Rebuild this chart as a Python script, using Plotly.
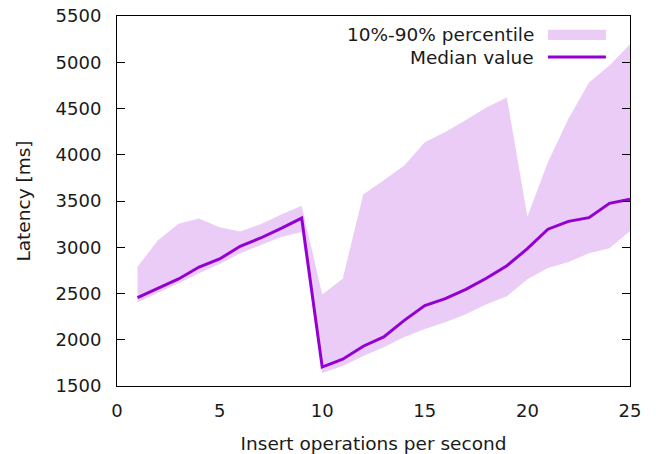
import plotly.graph_objects as go

ops = list(range(1, 26))
median_ms = [2455, 2555, 2657, 2786, 2873, 3010, 3100, 3205, 3315,
             1705, 1790, 1930, 2030, 2210, 2370, 2445, 2545, 2665, 2800,
             2985, 3195, 3280, 3320, 3475, 3520]
p90_ms = [2790, 3075, 3255, 3310, 3215, 3170, 3250, 3355, 3450,
          2490, 2660, 3570, 3725, 3885, 4135, 4245, 4375, 4510, 4620,
          3330, 3920, 4390, 4780, 4965, 5195]
p10_ms = [2405, 2505, 2612, 2720, 2820, 2935, 3020, 3110, 3165,
          1640, 1715, 1825, 1920, 2030, 2115, 2190, 2275, 2385, 2470,
          2655, 2775, 2840, 2935, 2990, 3175]

x_ticks = [0, 5, 10, 15, 20, 25]
y_ticks = [1500, 2000, 2500, 3000, 3500, 4000, 4500, 5000, 5500]

band_label = "10%-90% percentile"
median_label = "Median value"

FILL = "#eaccf6"
LINE = "#9400d3"
FONT = "DejaVu Sans"
TICK = dict(family=FONT, size=18, color="#1a1a1a")
TXT = dict(family=FONT, size=18.5, color="#1a1a1a")

fig = go.Figure()
fig.add_trace(go.Scatter(x=ops, y=p90_ms, mode="lines", line=dict(width=0),
                         showlegend=False, hoverinfo="skip"))
fig.add_trace(go.Scatter(x=ops, y=p10_ms, mode="lines", line=dict(width=0),
                         fill="tonexty", fillcolor=FILL, name=band_label,
                         showlegend=False))
fig.add_trace(go.Scatter(x=ops, y=median_ms, mode="lines",
                         line=dict(color=LINE, width=3), name=median_label,
                         showlegend=False))

fig.update_layout(
    width=656, height=454,
    margin=dict(l=117, r=26, t=16, b=68),
    paper_bgcolor="white", plot_bgcolor="white",
    font=TICK,
    showlegend=False,
)
fig.update_xaxes(
    range=[0, 25], tickvals=x_ticks, ticks="", showgrid=False, zeroline=False,
    showline=True, linecolor="black", linewidth=1, mirror=True,
    ticklabelstandoff=8, automargin=False, tickfont=TICK,
    title=dict(text="Insert operations per second", standoff=17, font=TXT),
)
fig.update_yaxes(
    range=[1500, 5500], tickvals=y_ticks, ticks="inside", ticklen=8,
    tickcolor="black", tickwidth=1, showgrid=False, zeroline=False,
    showline=True, linecolor="black", linewidth=1, mirror="ticks",
    ticklabelstandoff=11, automargin=False, tickfont=TICK,
    title=dict(text="Latency [ms]", standoff=20, font=TXT),
)

# gnuplot-style legend: text right-aligned, sample to the right
rows = [(0.949, band_label), (0.889, median_label)]
for yy, txt in rows:
    fig.add_annotation(x=0.817, y=yy, xref="paper", yref="paper", text=txt,
                       showarrow=False, xanchor="right", yanchor="middle",
                       font=TXT)
fig.add_shape(type="rect", xref="paper", yref="paper",
              x0=0.840, x1=0.953, y0=0.949 - 0.014, y1=0.949 + 0.014,
              fillcolor=FILL, line=dict(width=0))
fig.add_shape(type="line", xref="paper", yref="paper",
              x0=0.840, x1=0.953, y0=0.889, y1=0.889,
              line=dict(color=LINE, width=3))

fig.write_html("out.html", config={"displayModeBar": False},
               post_script="document.body.style.margin='0';document.body.style.overflow='hidden';")
